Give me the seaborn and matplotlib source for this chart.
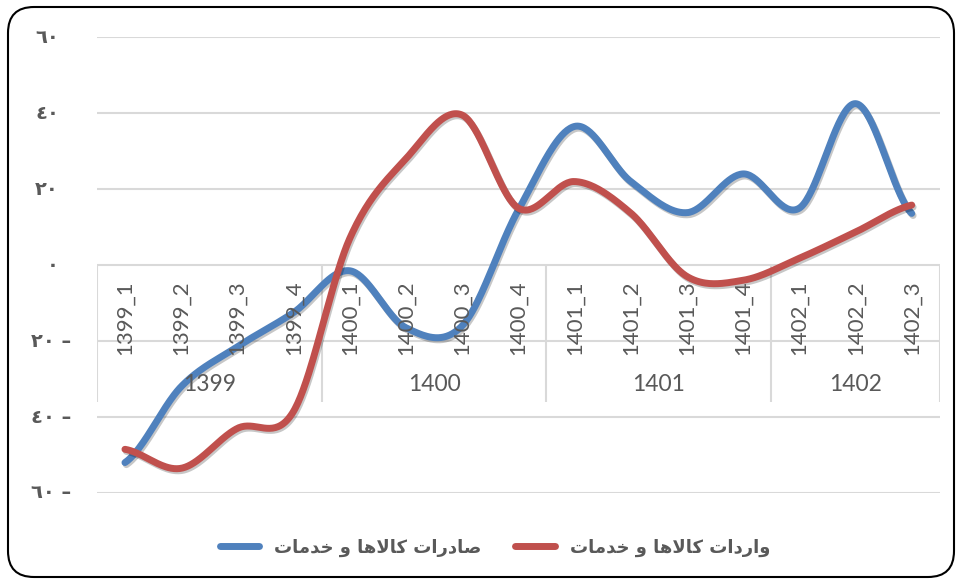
import numpy as np
import pandas as pd
import matplotlib
matplotlib.use("Agg")
import matplotlib.pyplot as plt
import matplotlib.patheffects as pe
from matplotlib.lines import Line2D
from matplotlib.patches import FancyBboxPatch
from matplotlib.transforms import IdentityTransform, blended_transform_factory
import seaborn as sns

# --- data ---
quarters = ["1399_1", "1399_2", "1399_3", "1399_4",
            "1400_1", "1400_2", "1400_3", "1400_4",
            "1401_1", "1401_2", "1401_3", "1401_4",
            "1402_1", "1402_2", "1402_3"]
years = ["1399", "1400", "1401", "1402"]
year_counts = [4, 4, 4, 3]

exports = [-52, -32, -21.5, -12.5, -1.5, -16.5, -16, 14.5,
           36.5, 22, 13.8, 24, 15, 42.5, 13.6]
imports = [-48.5, -53.5, -43, -38.5, 7, 28, 39.5, 15,
           22, 13.7, -3, -4, 1.8, 8.7, 15.8]

label_exports = "صادرات کالاها و خدمات"
label_imports = "واردات کالاها و خدمات"

ytick_values = [60, 40, 20, 0, -20, -40, -60]
ytick_labels = ["٦٠", "٤٠", "٢٠", "٠", "٢٠ –", "٤٠ –", "٦٠ –"]

BLUE = "#4F81BD"
RED = "#C0504D"
GRID = "#D9D9D9"
TEXT = "#595959"

# minimal arabic shaping (matplotlib has no bidi / joining support)
FORMS = {
    "ا": ("\uFE8D", "\uFE8E", None, None),
    "د": ("\uFEA9", "\uFEAA", None, None),
    "ر": ("\uFEAD", "\uFEAE", None, None),
    "و": ("\uFEED", "\uFEEE", None, None),
    "ت": ("\uFE95", "\uFE96", "\uFE97", "\uFE98"),
    "ص": ("\uFEB9", "\uFEBA", "\uFEBB", "\uFEBC"),
    "ک": ("\uFB8E", "\uFB8F", "\uFB90", "\uFB91"),
    "ل": ("\uFEDD", "\uFEDE", "\uFEDF", "\uFEE0"),
    "ه": ("\uFEE9", "\uFEEA", "\uFEEB", "\uFEEC"),
    "خ": ("\uFEA5", "\uFEA6", "\uFEA7", "\uFEA8"),
    "م": ("\uFEE1", "\uFEE2", "\uFEE3", "\uFEE4"),
}
LAM_ALEF = ("\uFEFB", "\uFEFC")


def shape_rtl(text):
    out = []
    i = 0
    n = len(text)
    while i < n:
        c = text[i]
        if c not in FORMS:
            out.append(c)
            i += 1
            continue
        prev = text[i - 1] if i > 0 else ""
        joins_prev = prev in FORMS and FORMS[prev][2] is not None
        if c == "ل" and i + 1 < n and text[i + 1] == "ا":
            out.append(LAM_ALEF[1] if joins_prev else LAM_ALEF[0])
            i += 2
            continue
        nxt = text[i + 1] if i + 1 < n else ""
        iso, fin, ini, med = FORMS[c]
        joins_next = ini is not None and nxt in FORMS
        if joins_prev and joins_next:
            g = med
        elif joins_prev:
            g = fin
        elif joins_next:
            g = ini
        else:
            g = iso
        out.append(g)
        i += 1
    return "".join(reversed(out))


# Excel-style smoothed line (catmull-rom through the points)
def smooth(values, steps=40):
    y = np.asarray(values, dtype=float)
    p = np.concatenate([[y[0]], y, [y[-1]]])
    xs, ys = [], []
    t = np.linspace(0, 1, steps, endpoint=False)
    for i in range(len(y) - 1):
        p0, p1, p2, p3 = p[i], p[i + 1], p[i + 2], p[i + 3]
        m1 = (p2 - p0) / 2
        m2 = (p3 - p1) / 2
        h00 = 2 * t**3 - 3 * t**2 + 1
        h10 = t**3 - 2 * t**2 + t
        h01 = -2 * t**3 + 3 * t**2
        h11 = t**3 - t**2
        xs.append(i + t)
        ys.append(h00 * p1 + h10 * m1 + h01 * p2 + h11 * m2)
    xs.append([len(y) - 1])
    ys.append([y[-1]])
    return np.concatenate(xs), np.concatenate(ys)


frames = []
for name, vals in [("exports", exports), ("imports", imports)]:
    sx, sy = smooth(vals)
    frames.append(pd.DataFrame({"x": sx, "y": sy, "series": name}))
df = pd.concat(frames, ignore_index=True)

sns.set_theme(style="white")
plt.rcParams["font.family"] = ["Lato", "DejaVu Sans"]

fig = plt.figure(figsize=(9.59, 5.81), dpi=100)
ax = fig.add_axes([0.101, 0.1515, 0.879, 0.7845])

sns.lineplot(data=df, x="x", y="y", hue="series", sort=False,
             palette={"exports": BLUE, "imports": RED},
             linewidth=5, legend=False, ax=ax, zorder=3)
for line in ax.lines:
    line.set_solid_capstyle("round")
    line.set_path_effects([pe.SimpleLineShadow(offset=(1, -1.5), shadow_color="black", alpha=0.22),
                           pe.Normal()])

ax.set_xlim(-0.5, len(quarters) - 0.5)
ax.set_ylim(-60, 60)
ax.set_yticks(ytick_values)
ax.set_yticklabels([])
ax.set_xticks([])
ax.tick_params(left=False, bottom=False)
ax.yaxis.grid(True, color=GRID, linewidth=1.5)
ax.set_axisbelow(True)
for s in ax.spines.values():
    s.set_visible(False)
ax.set_xlabel("")
ax.set_ylabel("")

# y labels (rtl minus on the right for negatives)
ytr = blended_transform_factory(ax.transAxes, ax.transData)
for v, lab in zip(ytick_values, ytick_labels):
    xpos = -0.045 if v >= 0 else -0.030
    ax.text(xpos, v, lab, transform=ytr, ha="right", va="center",
            fontsize=14, fontweight="bold", color=TEXT, family="DejaVu Sans")

# multi-level category axis
bounds = np.concatenate([[0], np.cumsum(year_counts)]) - 0.5
ax.vlines(bounds, -36, 0, color=GRID, linewidth=1.5, zorder=1)
for i, q in enumerate(quarters):
    ax.text(i, -4, q, rotation=90, ha="center", va="top",
            fontsize=16, color=TEXT, zorder=5)
for k, yr in enumerate(years):
    ax.text((bounds[k] + bounds[k + 1]) / 2, -31.5, yr, ha="center", va="center",
            fontsize=16.5, color=TEXT, zorder=5)

handles = [Line2D([], [], color=BLUE, lw=5, solid_capstyle="round"),
           Line2D([], [], color=RED, lw=5, solid_capstyle="round")]
leg = fig.legend(handles, [shape_rtl(label_exports), shape_rtl(label_imports)],
                 loc="center", bbox_to_anchor=(0.516, 0.057), ncol=2, frameon=False,
                 handlelength=2.2, columnspacing=1.9,
                 prop={"family": "DejaVu Sans", "weight": "bold", "size": 13})
for t in leg.get_texts():
    t.set_color(TEXT)

fig.add_artist(FancyBboxPatch((8, 4), 946, 570, boxstyle="round,pad=0,rounding_size=26",
                              transform=IdentityTransform(), fill=False,
                              edgecolor="black", linewidth=1.5))

fig.savefig("out.png", dpi=100)
